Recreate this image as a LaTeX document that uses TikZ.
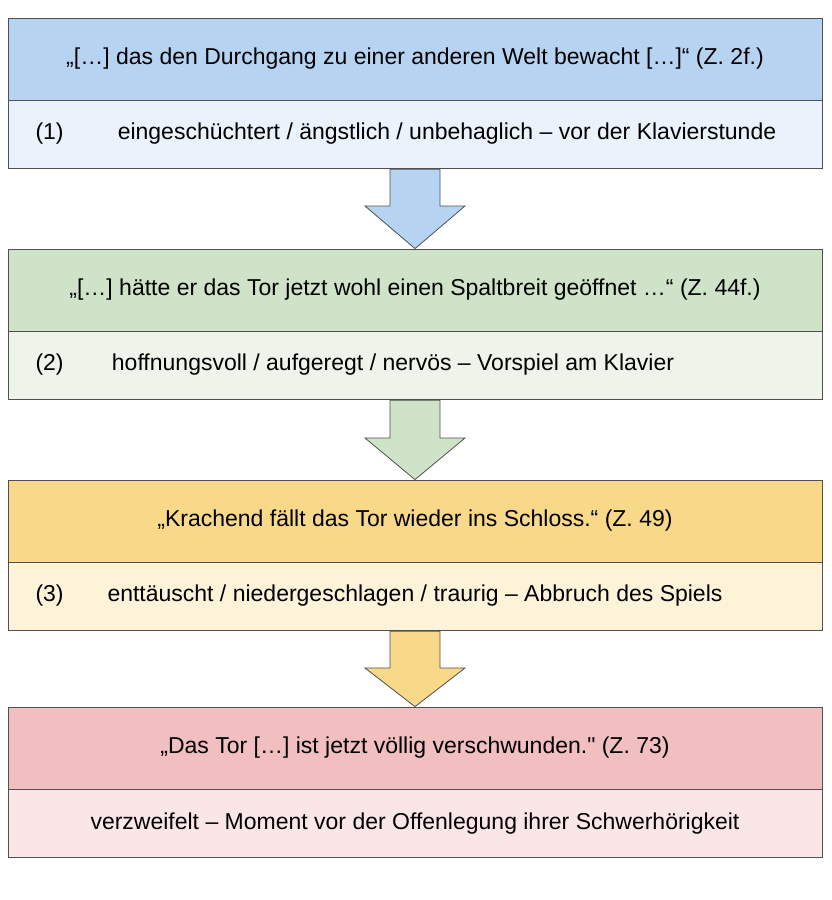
\documentclass[tikz,border=0pt]{standalone}
\usepackage{fontspec}
\setmainfont{Liberation Sans}
\usetikzlibrary{positioning}
\definecolor{headA}{HTML}{B7D3F2}\definecolor{bodyA}{HTML}{EAF2FC}
\definecolor{headB}{HTML}{CFE3C8}\definecolor{bodyB}{HTML}{EEF4EA}
\definecolor{headC}{HTML}{F8D98A}\definecolor{bodyC}{HTML}{FDF3D9}
\definecolor{headD}{HTML}{F1BFC0}\definecolor{bodyD}{HTML}{FBE6E7}
\definecolor{rim}{HTML}{505050}
% block arrow from #1.south down to #2.north, head starting at #3
\newcommand{\blockarrow}[4]{%
  \path[draw=rim,fill=#4,line width=0.8pt]
    ([xshift=-25pt]#1.south) -- ([xshift=-25pt]#1.south |- #3)
    -- ([xshift=-50pt]#1.south |- #3) -- (#1.south |- #2.north)
    -- ([xshift=50pt]#1.south |- #3) -- ([xshift=25pt]#1.south |- #3)
    -- ([xshift=25pt]#1.south) -- cycle;}
\begin{document}
\begin{tikzpicture}[x=1pt,y=-1pt,
  every node/.style={font=\fontsize{23}{27}\selectfont},
  head/.style={draw=rim,line width=0.8pt,minimum width=814pt,minimum height=82pt,inner sep=0pt},
  body/.style={draw=rim,line width=0.8pt,minimum width=814pt,minimum height=68pt,inner sep=0pt},
  num/.style={draw=none,anchor=west}
  ]
  \useasboundingbox[fill=white] (0,0) rectangle (832,900);
  % quote boxes
  \node[head,fill=headA] (h1) at (415,59) {„[…] das den Durchgang zu einer anderen Welt bewacht […]“ (Z. 2f.)};
  \node[body,fill=bodyA,below=0pt of h1] (b1) {};
  \node[num] (n1) at (32,134) {(1)};
  \node (t1) at (447,134) {eingeschüchtert / ängstlich / unbehaglich – vor der Klavierstunde};
  \node[head,fill=headB] (h2) at (415,290) {„[…] hätte er das Tor jetzt wohl einen Spaltbreit geöffnet …“ (Z. 44f.)};
  \node[body,fill=bodyB,below=0pt of h2] (b2) {};
  \node[num] (n2) at (32,365) {(2)};
  \node (t2) at (393,365) {hoffnungsvoll / aufgeregt / nervös – Vorspiel am Klavier};
  \node[head,fill=headC] (h3) at (415,521) {„Krachend fällt das Tor wieder ins Schloss.“ (Z. 49)};
  \node[body,fill=bodyC,below=0pt of h3] (b3) {};
  \node[num] (n3) at (32,596) {(3)};
  \node (t3) at (415,596) {enttäuscht / niedergeschlagen / traurig – Abbruch des Spiels};
  \node[head,fill=headD] (h4) at (415,748) {„Das Tor […] ist jetzt völlig verschwunden.\textquotedbl\ (Z. 73)};
  \node[body,fill=bodyD,below=0pt of h4] (b4) {verzweifelt – Moment vor der Offenlegung ihrer Schwerhörigkeit};
  % arrows
  \coordinate (a1) at (0,206); \coordinate (a2) at (0,438);
  \coordinate (a3) at (0,668);
  \blockarrow{b1}{h2}{a1}{headA}
  \blockarrow{b2}{h3}{a2}{headB}
  \blockarrow{b3}{h4}{a3}{headC}
\end{tikzpicture}
\end{document}
